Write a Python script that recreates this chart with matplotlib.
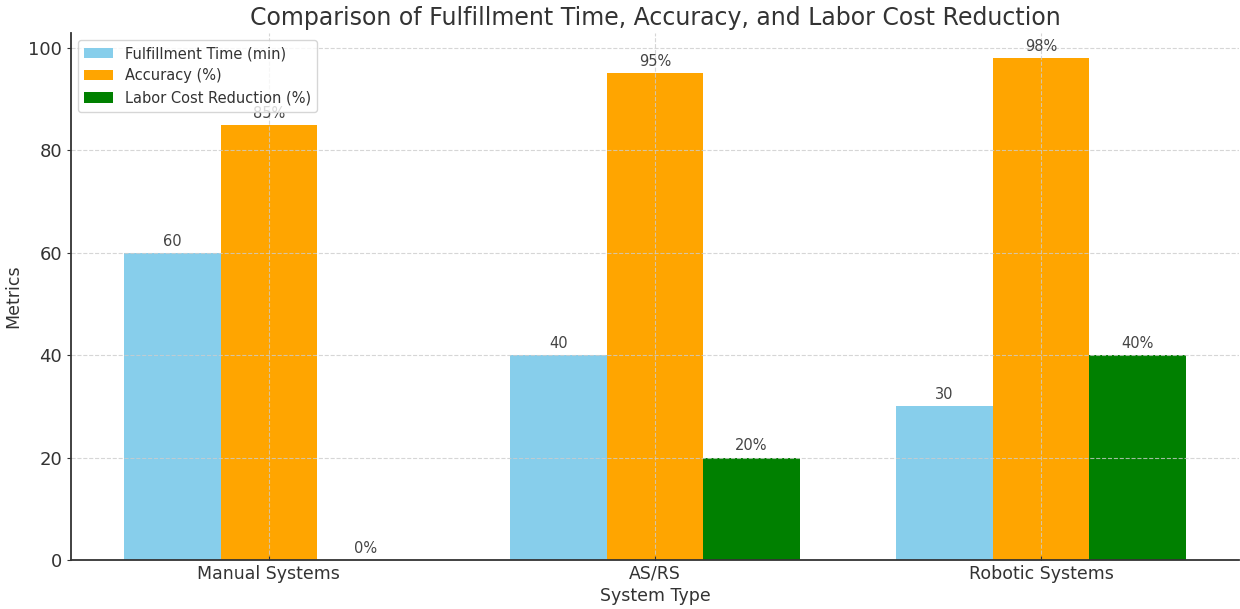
import numpy as np
import matplotlib
matplotlib.use("Agg")
from matplotlib import pyplot as plt

# data
systems = ["Manual Systems", "AS/RS", "Robotic Systems"]
fulfillment_time = [60, 40, 30]
accuracy = [85, 95, 98]
labor_cost_reduction = [0, 20, 40]

txt = "#333333"
plt.rcParams["font.family"] = ["DejaVu Sans"]
plt.rcParams["text.color"] = txt
plt.rcParams["axes.labelcolor"] = txt
plt.rcParams["xtick.color"] = txt
plt.rcParams["ytick.color"] = txt

fig = plt.figure(figsize=(12.4, 6.09), dpi=100)
ax = fig.add_axes([71 / 1240, 49 / 609, (1239 - 71) / 1240, (560 - 33) / 609])

x = np.arange(len(systems))
w = 0.25
b1 = ax.bar(x - w, fulfillment_time, w, color="skyblue", label="Fulfillment Time (min)")
b2 = ax.bar(x, accuracy, w, color="orange", label="Accuracy (%)")
b3 = ax.bar(x + w, labor_cost_reduction, w, color="green", label="Labor Cost Reduction (%)")

# value labels above bars
for bars, suffix in [(b1, ""), (b2, "%"), (b3, "%")]:
    for bar in bars:
        h = bar.get_height()
        ax.annotate(f"{h:.0f}{suffix}", (bar.get_x() + bar.get_width() / 2, h),
                    xytext=(0, 3), textcoords="offset points",
                    ha="center", va="bottom", fontsize=10.5, color="#444444")

ax.set_title("Comparison of Fulfillment Time, Accuracy, and Labor Cost Reduction",
             fontsize=17, color=txt, pad=6)
ax.set_xlabel("System Type", fontsize=12.5, labelpad=3)
ax.set_ylabel("Metrics", fontsize=12.5)
ax.set_xticks(x)
ax.set_xticklabels(systems)
ax.tick_params(axis="x", labelsize=12.5, direction="in", length=3)
ax.tick_params(axis="y", labelsize=13, length=3)

ax.grid(True, linestyle="--", color="#cccccc", linewidth=0.8, alpha=0.8)
for s in ["top", "right"]:
    ax.spines[s].set_visible(False)
for s in ["left", "bottom"]:
    ax.spines[s].set_color(txt)
    ax.spines[s].set_linewidth(1.3)

leg = ax.legend(loc="upper left", fontsize=10.5, frameon=True)
leg.get_frame().set_edgecolor("#cccccc")

fig.savefig("out.png", dpi=100)
